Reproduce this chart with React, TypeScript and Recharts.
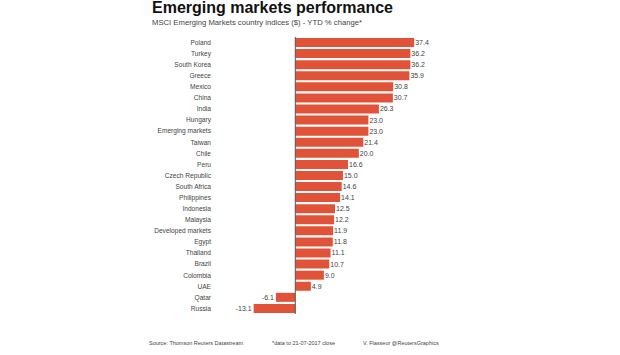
import React from 'react';
import { BarChart, Bar, XAxis, YAxis, ReferenceLine, LabelList } from 'recharts';

const countries = ['Poland','Turkey','South Korea','Greece','Mexico','China','India','Hungary','Emerging markets','Taiwan','Chile','Peru','Czech Republic','South Africa','Philippines','Indonesia','Malaysia','Developed markets','Egypt','Thailand','Brazil','Colombia','UAE','Qatar','Russia'];
const ytdChange = [37.4,36.2,36.2,35.9,30.8,30.7,26.3,23.0,23.0,21.4,20.0,16.6,15.0,14.6,14.1,12.5,12.2,11.9,11.8,11.1,10.7,9.0,4.9,-6.1,-13.1];

const data = countries.map((name, i) => ({ name, value: ytdChange[i] }));

const FONT = '"Liberation Sans", Arial, sans-serif';

const ValueLabel = (props: any) => {
  const { x, y, width, height, value } = props;
  const v = Number(value);
  const end = Number(x) + Number(width);
  const neg = v < 0;
  return (
    <text
      x={neg ? Math.min(Number(x), end) - 2 : Math.max(Number(x), end) + 1}
      y={Number(y) + Number(height) / 2}
      dy="0.35em"
      textAnchor={neg ? 'end' : 'start'}
      fontSize={7}
      fill="#444"
      fontFamily={FONT}
    >
      {v.toFixed(1)}
    </text>
  );
};

const CategoryTick = (props: any) => {
  const { x, y, payload } = props;
  return (
    <text x={x} y={y} dy="0.35em" textAnchor="end" fontSize={6.6} fill="#444" fontFamily={FONT}>
      {payload.value}
    </text>
  );
};

export default function App() {
  return (
    <div style={{ position: 'absolute', left: 0, top: 0, width: 620, height: 355, background: '#fff', fontFamily: FONT }}>
      <div style={{ position: 'absolute', left: 152, top: 0, fontSize: 16, lineHeight: '16px', fontWeight: 'bold', color: '#111', whiteSpace: 'nowrap' }}>
        Emerging markets performance
      </div>
      <div style={{ position: 'absolute', left: 152, top: 18, fontSize: 7.7, lineHeight: '10px', color: '#444', whiteSpace: 'nowrap' }}>
        MSCI Emerging Markets country indices ($) - YTD % change*
      </div>
      <BarChart
        width={620}
        height={355}
        layout="vertical"
        data={data}
        margin={{ top: 37, right: 134, bottom: 41, left: 0 }}
        barSize={9}
      >
        <XAxis type="number" domain={[-24, 60]} hide />
        <YAxis
          type="category"
          dataKey="name"
          width={219}
          axisLine={false}
          tickLine={false}
          interval={0}
          tick={CategoryTick}
        />
        <Bar dataKey="value" fill="#e05339" isAnimationActive={false}>
          <LabelList dataKey="value" content={ValueLabel} />
        </Bar>
        <ReferenceLine x={0} stroke="#555" strokeWidth={1} ifOverflow="extendDomain" />
      </BarChart>
      <div style={{ position: 'absolute', left: 149, top: 339, fontSize: 5.5, lineHeight: '8px', color: '#444', whiteSpace: 'nowrap' }}>
        Source: Thomson Reuters Datastream
      </div>
      <div style={{ position: 'absolute', left: 272, top: 339, fontSize: 5.5, lineHeight: '8px', color: '#444', whiteSpace: 'nowrap' }}>
        *data to 21-07-2017 close
      </div>
      <div style={{ position: 'absolute', left: 363, top: 339, fontSize: 5.5, lineHeight: '8px', color: '#444', whiteSpace: 'nowrap' }}>
        V. Flasseur @ReutersGraphics
      </div>
    </div>
  );
}
